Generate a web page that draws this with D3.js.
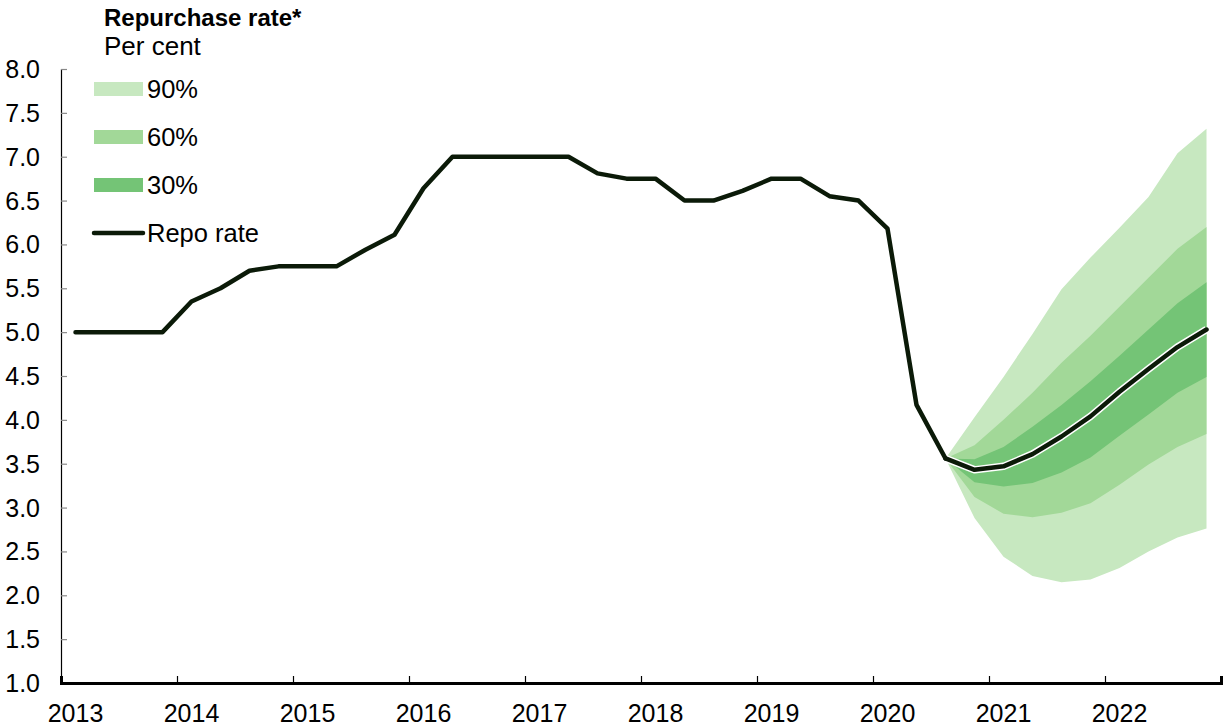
<!DOCTYPE html>
<html>
<head>
<meta charset="utf-8">
<script src="https://cdn.jsdelivr.net/npm/d3@7"></script>
<style>
  body { margin: 0; background: #fff; }
  svg { display: block; font-family: "Liberation Sans", Arial, sans-serif; }
</style>
</head>
<body>
<div id="chart"></div>
<script>
var w = 1225;
var h = 727;

// quarterly data, first point is 2013 Q1
var startYear = 2013;
var years = [2013, 2014, 2015, 2016, 2017, 2018, 2019, 2020, 2021, 2022];
var yTicks = [1.0, 1.5, 2.0, 2.5, 3.0, 3.5, 4.0, 4.5, 5.0, 5.5, 6.0, 6.5, 7.0, 7.5, 8.0];

// outcome 2013 Q1 - 2020 Q3
var repoHist = [5.0, 5.0, 5.0, 5.0,
                5.35, 5.5, 5.7, 5.75,
                5.75, 5.75, 5.94, 6.11,
                6.64, 7.0, 7.0, 7.0,
                7.0, 7.0, 6.81, 6.75,
                6.75, 6.5, 6.5, 6.61,
                6.75, 6.75, 6.55, 6.5,
                6.18, 4.17, 3.56];

// forecast 2020 Q3 - 2022 Q4
var forecastStart = 30;
var repoForecast = [3.56, 3.43, 3.47, 3.61, 3.81, 4.04, 4.32, 4.58, 4.83, 5.03];
var band90Up = [3.56, 4.03, 4.49, 4.98, 5.49, 5.85, 6.19, 6.54, 7.04, 7.32];
var band60Up = [3.56, 3.71, 4.0, 4.31, 4.65, 4.96, 5.29, 5.62, 5.95, 6.2];
var band30Up = [3.56, 3.55, 3.69, 3.92, 4.17, 4.44, 4.73, 5.03, 5.33, 5.57];
var band30Lo = [3.56, 3.29, 3.24, 3.28, 3.4, 3.57, 3.82, 4.06, 4.31, 4.49];
var band60Lo = [3.56, 3.12, 2.93, 2.89, 2.94, 3.05, 3.26, 3.49, 3.69, 3.84];
var band90Lo = [3.56, 2.88, 2.44, 2.22, 2.15, 2.18, 2.31, 2.5, 2.66, 2.76];

var legendLabels = ['90%', '60%', '30%', 'Repo rate'];
var bandColors = ['#c7e8c0', '#a2d898', '#74c476'];
var lineColor = '#0b1a08';

var svg = d3.select('#chart')
  .append('svg')
  .attr('width', w)
  .attr('height', h);

var x = d3.scaleLinear().domain([2013, 2023]).range([61, 1221]);
var y = d3.scaleLinear().domain([1, 8]).range([683, 69]);

function qx(i) {
  return x(startYear + (i + 0.5) / 4);
}

// fan bands
var bands = [[band90Up, band90Lo], [band60Up, band60Lo], [band30Up, band30Lo]];
var area = d3.area()
  .x(function(d) { return qx(d.i); })
  .y0(function(d) { return y(d.lo); })
  .y1(function(d) { return y(d.hi); });

bands.forEach(function(b, k) {
  var pts = b[0].map(function(v, j) {
    return { i: forecastStart + j, hi: v, lo: b[1][j] };
  });
  svg.append('path')
    .datum(pts)
    .attr('d', area)
    .attr('fill', bandColors[k]);
});

// axes
svg.append('g')
  .attr('transform', 'translate(61,0)')
  .call(d3.axisRight(y).tickValues(yTicks).tickSize(6).tickFormat(''))
  .call(function(g) {
    g.select('.domain').attr('stroke', '#000').attr('stroke-width', 1.2);
    g.selectAll('.tick line').attr('stroke', '#888').attr('stroke-width', 1.2);
  });

svg.selectAll('.ylab')
  .data(yTicks)
  .enter()
  .append('text')
  .attr('class', 'ylab')
  .attr('x', 40)
  .attr('y', function(d) { return y(d); })
  .attr('dy', '0.36em')
  .attr('text-anchor', 'end')
  .attr('font-size', 25)
  .attr('fill', '#000')
  .text(function(d) { return d3.format('.1f')(d); });

svg.append('g')
  .attr('transform', 'translate(0,683)')
  .call(d3.axisTop(x).tickValues(d3.range(2013, 2024)).tickSize(7).tickFormat(''))
  .call(function(g) {
    g.select('.domain').attr('stroke', '#000').attr('stroke-width', 3);
    g.selectAll('.tick line').attr('stroke', '#000').attr('stroke-width', 1.2);
  });

svg.selectAll('.xlab')
  .data(years)
  .enter()
  .append('text')
  .attr('class', 'xlab')
  .attr('x', function(d) { return x(d + 0.125); })
  .attr('y', 722)
  .attr('text-anchor', 'middle')
  .attr('font-size', 25)
  .attr('fill', '#000')
  .text(function(d) { return d; });

// repo rate line
var line = d3.line()
  .x(function(d) { return qx(d.i); })
  .y(function(d) { return y(d.v); });

var hist = repoHist.map(function(v, i) { return { i: i, v: v }; });
var fc = repoForecast.map(function(v, j) { return { i: forecastStart + j, v: v }; });

svg.append('path')
  .datum(fc)
  .attr('d', line)
  .attr('fill', 'none')
  .attr('stroke', '#fff')
  .attr('stroke-width', 7.5)
  .attr('stroke-linejoin', 'round');

svg.append('path')
  .datum(hist)
  .attr('d', line)
  .attr('fill', 'none')
  .attr('stroke', lineColor)
  .attr('stroke-width', 4.5)
  .attr('stroke-linejoin', 'round')
  .attr('stroke-linecap', 'round');

svg.append('path')
  .datum(fc)
  .attr('d', line)
  .attr('fill', 'none')
  .attr('stroke', lineColor)
  .attr('stroke-width', 4.5)
  .attr('stroke-linejoin', 'round')
  .attr('stroke-linecap', 'round');

// title
svg.append('text')
  .attr('x', 104)
  .attr('y', 26)
  .attr('font-size', 24)
  .attr('font-weight', 'bold')
  .text('Repurchase rate*');

svg.append('text')
  .attr('x', 104)
  .attr('y', 55)
  .attr('font-size', 26)
  .text('Per cent');

// legend
var leg = svg.selectAll('.leg')
  .data(legendLabels)
  .enter()
  .append('g')
  .attr('class', 'leg')
  .attr('transform', function(d, i) { return 'translate(0,' + (89 + i * 48) + ')'; });

leg.each(function(d, i) {
  var g = d3.select(this);
  if (i < 3) {
    g.append('rect')
      .attr('x', 94)
      .attr('y', -7)
      .attr('width', 49)
      .attr('height', 14)
      .attr('fill', bandColors[i]);
  } else {
    g.append('line')
      .attr('x1', 94)
      .attr('x2', 143)
      .attr('y1', 0)
      .attr('y2', 0)
      .attr('stroke', lineColor)
      .attr('stroke-width', 4.5)
      .attr('stroke-linecap', 'round');
  }
  g.append('text')
    .attr('x', 147)
    .attr('y', 0)
    .attr('dy', '0.36em')
    .attr('font-size', 25.5)
    .attr('fill', '#000')
    .text(d);
});
</script>
</body>
</html>
